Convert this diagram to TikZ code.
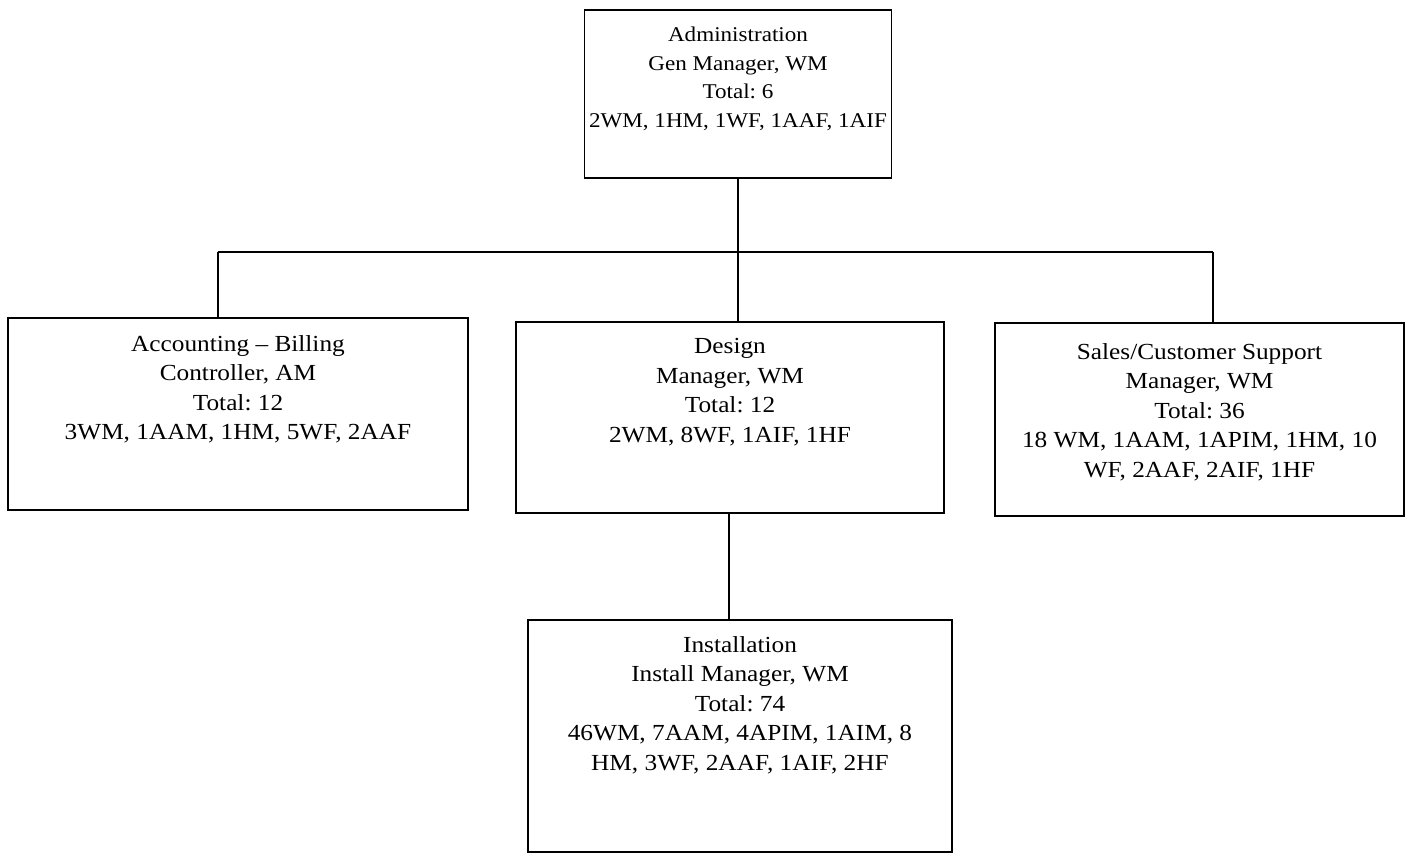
\documentclass[tikz,border=0pt]{standalone}
\usepackage{fontspec}
\setmainfont{Liberation Serif}[FakeStretch=1.1]
\frenchspacing
\begin{document}
\begin{tikzpicture}[x=1pt,y=-1pt,
  box/.style={draw=black, line width=1.6pt, rectangle, inner sep=0pt},
  txt/.style={align=center, font=\fontsize{23}{29.5}\selectfont, inner sep=0pt, anchor=north},
  smalltxt/.style={txt, font=\fontsize{21}{28.5}\selectfont},
  link/.style={draw=black, line width=1.6pt}]
\useasboundingbox[fill=white] (0,0) rectangle (1406,852);
% boxes
\node[box, minimum width=307pt, minimum height=168pt] (admin) at (738,94) {};
\node[box, minimum width=460pt, minimum height=192pt] (acct) at (238,414) {};
\node[box, minimum width=428pt, minimum height=191pt] (design) at (730,417.5) {};
\node[box, minimum width=409pt, minimum height=193pt] (sales) at (1199.5,419.5) {};
\node[box, minimum width=424pt, minimum height=232pt] (install) at (740,736) {};
% texts
\node[smalltxt] (admintxt) at ([yshift=-18pt]admin.north) {Administration\\Gen Manager, WM\\Total: 6\\2WM, 1HM, 1WF, 1AAF, 1AIF};
\node[txt] (accttxt) at ([yshift=-18pt]acct.north) {Accounting -- Billing\\Controller, AM\\Total: 12\\3WM, 1AAM, 1HM, 5WF, 2AAF};
\node[txt] (designtxt) at ([yshift=-17pt]design.north) {Design\\Manager, WM\\Total: 12\\2WM, 8WF, 1AIF, 1HF};
\node[txt] (salestxt) at ([yshift=-21pt]sales.north) {Sales/Customer Support\\Manager, WM\\Total: 36\\18 WM, 1AAM, 1APIM, 1HM, 10\\WF, 2AAF, 2AIF, 1HF};
\node[txt] (installtxt) at ([yshift=-17pt]install.north) {Installation\\Install Manager, WM\\Total: 74\\46WM, 7AAM, 4APIM, 1AIM, 8\\HM, 3WF, 2AAF, 1AIF, 2HF};
% connectors
\coordinate (jl) at (218,252);
\coordinate (jr) at (1213,252);
\coordinate (di) at (729,513);
\draw[link] (jl) -- (jr);
\draw[link] (admin.south) -- (admin.south |- design.north);
\draw[link] (jl) -- (jl |- acct.north);
\draw[link] (jr) -- (jr |- sales.north);
\draw[link] (di) -- (di |- install.north);
\end{tikzpicture}
\end{document}
